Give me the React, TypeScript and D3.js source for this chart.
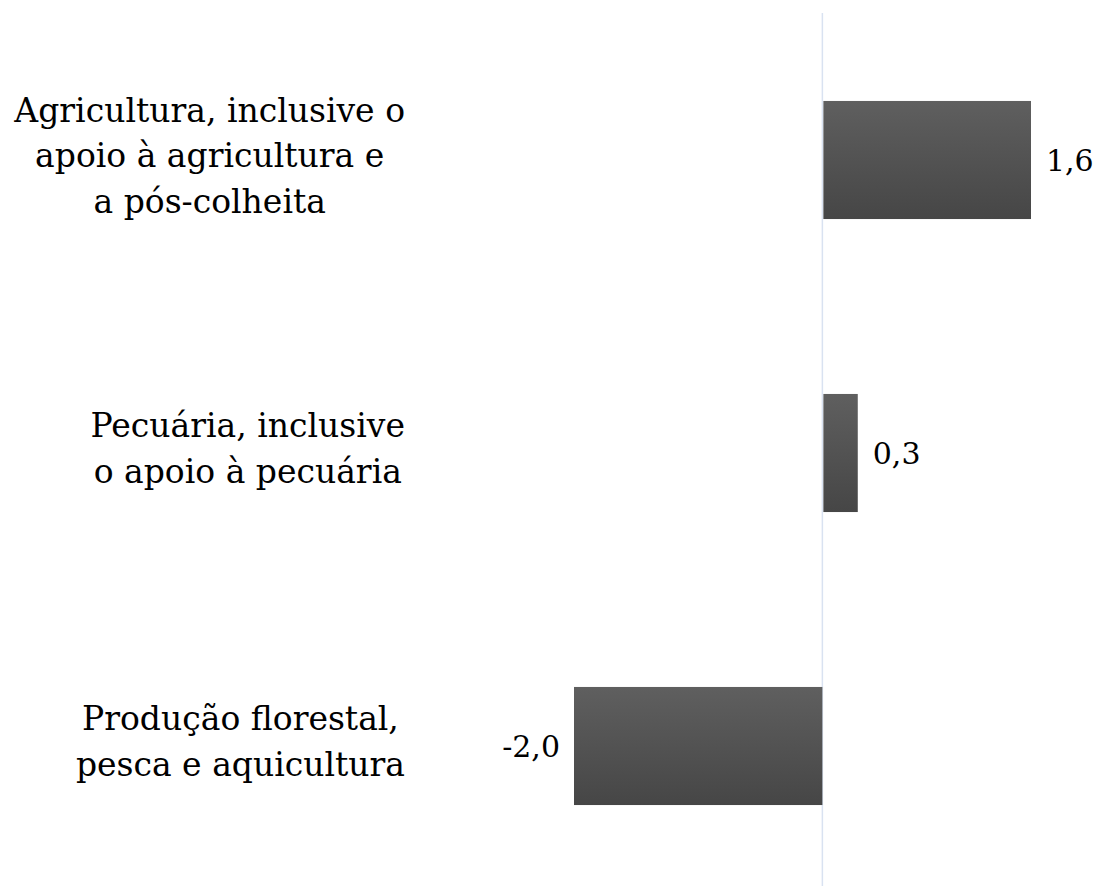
import React from "react";
import * as d3 from "d3";

const categories = [
  ["Agricultura, inclusive o", "apoio à agricultura e", "a pós-colheita"],
  ["Pecuária, inclusive", "o apoio à pecuária"],
  ["Produção florestal,", "pesca e aquicultura"],
];
const values = [1.63, 0.27, -1.95];
const valueLabels = ["1,6", "0,3", "-2,0"];

const W = 1097;
const H = 886;
const font = "'DejaVu Serif', serif";
const labelSize = 33;
const valueSize = 30;

function measure(text: string, size: number) {
  const ctx = document.createElement("canvas").getContext("2d")!;
  ctx.font = `${size}px ${font}`;
  return ctx.measureText(text).width;
}

export default function App() {
  const x = d3.scaleLinear().domain([-1.95, 1.63]).range([574, 1030]);
  const y = d3
    .scaleBand<number>()
    .domain(d3.range(values.length))
    .range([13.5, 892.5])
    .paddingInner(0.597)
    .paddingOuter(0.2985);

  const x0 = x(0);
  const lineH = 45.5;
  const labelRight = 405;

  return (
    <svg
      width={W}
      height={H}
      style={{ position: "absolute", left: 0, top: 0, background: "#fff" }}
    >
      <defs>
        <linearGradient id="barGrad" x1="0" y1="0" x2="0" y2="1">
          <stop offset="0%" stopColor="#5f5f5f" />
          <stop offset="100%" stopColor="#464646" />
        </linearGradient>
      </defs>
      <line x1={x0} x2={x0} y1={13} y2={H} stroke="#d9e2f1" strokeWidth={1.5} />
      {values.map((v, i) => {
        const by = y(i)!;
        const bh = y.bandwidth();
        const cy = by + bh / 2;
        const left = Math.min(x(v), x0);
        const w = Math.abs(x(v) - x0);
        const lines = categories[i];
        const maxW = d3.max(lines, (l) => measure(l, labelSize))!;
        const cx = labelRight - maxW / 2;
        return (
          <g key={i}>
            <rect x={v >= 0 ? left + 1 : left} y={by} width={w} height={bh} fill="url(#barGrad)" />
            <text
              x={v >= 0 ? x(v) + 16 : x(v) - 14}
              y={cy + 11}
              textAnchor={v >= 0 ? "start" : "end"}
              fontFamily={font}
              fontSize={valueSize}
              fill="#000"
            >
              {valueLabels[i]}
            </text>
            <text textAnchor="middle" fontFamily={font} fontSize={labelSize} fill="#000">
              {lines.map((l, j) => (
                <tspan
                  key={j}
                  x={cx}
                  y={cy + (j - (lines.length - 1) / 2) * lineH + 7}
                >
                  {l}
                </tspan>
              ))}
            </text>
          </g>
        );
      })}
    </svg>
  );
}
